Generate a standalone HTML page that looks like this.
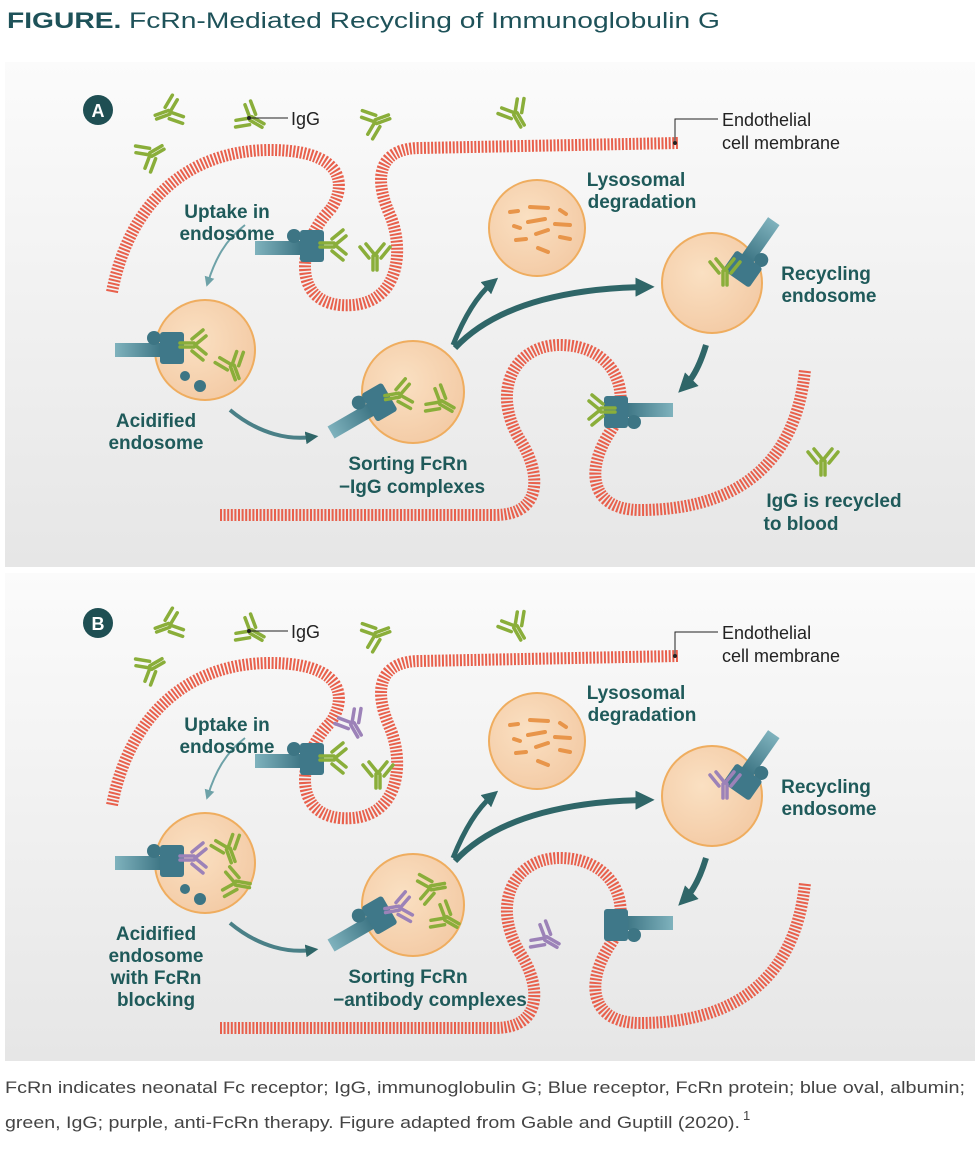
<!DOCTYPE html>
<html><head><meta charset="utf-8"><style>
body{margin:0;background:#fff;width:980px;height:1156px;overflow:hidden;font-family:"Liberation Sans",sans-serif}
svg{position:absolute;left:0;top:0}
</style></head><body>
<svg width="980" height="1156" viewBox="0 0 980 1156" xmlns="http://www.w3.org/2000/svg">
<defs>
<linearGradient id="bg" x1="0" y1="0" x2="0" y2="1"><stop offset="0" stop-color="#fbfbfb"/><stop offset="1" stop-color="#e6e6e6"/></linearGradient>
<radialGradient id="cell" cx="0.4" cy="0.4" r="0.7"><stop offset="0" stop-color="#fae0c2"/><stop offset="1" stop-color="#f3c9a3"/></radialGradient>
<linearGradient id="tail" x1="0" y1="0" x2="1" y2="0"><stop offset="0" stop-color="#7fb2bd"/><stop offset="1" stop-color="#3d7584"/></linearGradient>
<symbol id="ab" overflow="visible"><g fill="none" stroke="#8aae3a" stroke-width="3.5" stroke-linecap="round"><path d="M0,0 L-9,-11 M0,0 L9,-11 M-2,1 L-2,15 M2,1 L2,15 M-6,3 L-15,-8 M6,3 L15,-8"/></g></symbol>
<symbol id="abp" overflow="visible"><g fill="none" stroke="#9c82b8" stroke-width="3.5" stroke-linecap="round"><path d="M0,0 L-9,-11 M0,0 L9,-11 M-2,1 L-2,15 M2,1 L2,15 M-6,3 L-15,-8 M6,3 L15,-8"/></g></symbol>
<symbol id="rec" overflow="visible"><rect x="-45" y="-7" width="47" height="14" fill="url(#tail)"/><circle cx="-6" cy="-12" r="7" fill="#3d7584"/><rect x="0" y="-18" width="24" height="32" rx="3" fill="#3f7889"/></symbol>
<marker id="ah" viewBox="0 0 10 10" refX="5" refY="5" markerWidth="3.2" markerHeight="3.2" orient="auto"><path d="M0,0 L10,5 L0,10 z" fill="#2f6668"/></marker>
<marker id="ahl" viewBox="0 0 10 10" refX="5" refY="5" markerWidth="5" markerHeight="5" orient="auto"><path d="M0,0 L10,5 L0,10 z" fill="#6ea2a8"/></marker>
<g id="mem">
<path d="M112,292 C130,200 190,150 270,150 C350,150 345,190 330,210 C300,240 290,300 340,305 C400,310 405,250 390,215 C370,170 385,148 420,148 L678,143" fill="none" stroke="#e8604c" stroke-width="12" stroke-dasharray="2 1.6"/>
<path d="M220,515 L495,515 C545,515 540,470 520,440 C490,390 515,345 560,345 C615,345 635,395 610,432 C585,470 590,510 640,510 C730,510 795,470 805,370" fill="none" stroke="#e8604c" stroke-width="12" stroke-dasharray="2 1.6"/>
</g>
<g id="cells" stroke="#efad5f" stroke-width="2" fill="url(#cell)">
<circle cx="205" cy="350" r="50"/><circle cx="413" cy="392" r="51"/><circle cx="537" cy="228" r="48"/><circle cx="712" cy="283" r="50"/>
</g>
<g id="frag" stroke="#e8954a" stroke-width="4" stroke-linecap="round">
<path d="M510,212 L518,211 M530,207 L548,208 M560,210 L566,214 M514,226 L520,228 M528,222 L545,219 M555,224 L570,225 M516,240 L526,239 M536,234 L548,230 M538,248 L548,252 M560,237 L570,239"/>
</g>
<g id="arrows" fill="none">
<path d="M245,225 C225,240 215,260 208,282" stroke="#6ea2a8" stroke-width="2" marker-end="url(#ahl)"/>
<path d="M230,410 C260,435 290,440 312,437" stroke="#4a8087" stroke-width="4" marker-end="url(#ah)"/>
<path d="M453,345 C465,315 478,295 492,283" stroke="#2f6668" stroke-width="5" marker-end="url(#ah)"/>
<path d="M455,348 C500,300 580,288 645,287" stroke="#2f6668" stroke-width="6" marker-end="url(#ah)"/>
<path d="M706,345 C700,365 693,378 685,386" stroke="#2f6668" stroke-width="6" marker-end="url(#ah)"/>
</g>
</defs>
<text x="7" y="28" font-size="22" fill="#1e5259" textLength="713" lengthAdjust="spacingAndGlyphs"><tspan font-weight="bold">FIGURE.</tspan><tspan dx="6">FcRn-Mediated Recycling of Immunoglobulin G</tspan></text>
<rect x="5" y="62" width="970" height="505" fill="url(#bg)"/>
<rect x="5" y="573" width="970" height="488" fill="url(#bg)"/>

<!-- PANEL A -->
<g>
<use href="#mem"/><use href="#cells"/><use href="#frag"/><use href="#arrows"/>
<circle cx="98" cy="110" r="15" fill="#1f4f53"/><text x="98" y="117" font-size="18" font-weight="bold" fill="#fff" text-anchor="middle">A</text>
<use href="#ab" transform="translate(170,112) rotate(70)"/>
<use href="#ab" transform="translate(150,155) rotate(-120)"/>
<use href="#ab" transform="translate(250,118) rotate(-60)"/>
<use href="#ab" transform="translate(375,122) rotate(-110)"/>
<use href="#ab" transform="translate(515,113) rotate(-30)"/>
<circle cx="249" cy="118" r="2" fill="#222"/><path d="M249,118 H288" stroke="#222" stroke-width="1"/>
<text x="291" y="125" font-size="18" fill="#222">IgG</text>
<circle cx="675" cy="143" r="2" fill="#222"/><path d="M675,143 V119 H718" stroke="#222" stroke-width="1" fill="none"/>
<text x="722" y="126" font-size="18" fill="#222">Endothelial</text><text x="722" y="149" font-size="18" fill="#222">cell membrane</text>
<use href="#rec" transform="translate(300,248)"/>
<use href="#ab" transform="translate(335,245) rotate(90)"/>
<use href="#ab" transform="translate(375,255) rotate(0)"/>
<use href="#rec" transform="translate(160,350)"/>
<use href="#ab" transform="translate(195,345) rotate(90)"/>
<use href="#ab" transform="translate(232,365) rotate(-20)"/>
<circle cx="185" cy="376" r="5" fill="#3d7584"/><circle cx="200" cy="386" r="6" fill="#3d7584"/>
<use href="#rec" transform="translate(370,410) rotate(-30)"/>
<use href="#ab" transform="translate(400,395) rotate(80)"/>
<use href="#ab" transform="translate(440,402) rotate(-60)"/>
<use href="#rec" transform="translate(748,258) rotate(125)"/>
<use href="#ab" transform="translate(725,270) rotate(0)"/>
<use href="#rec" transform="translate(628,410) rotate(180)"/>
<use href="#ab" transform="translate(600,410) rotate(-90)"/>
<use href="#ab" transform="translate(823,460) rotate(0)"/>
<g font-size="19" font-weight="bold" fill="#1f5a5a" text-anchor="middle">
<text x="227" y="218">Uptake in</text><text x="227" y="240">endosome</text>
<text x="156" y="427">Acidified</text><text x="156" y="449">endosome</text>
<text x="408" y="470">Sorting FcRn</text><text x="412" y="493">−IgG complexes</text>
<text x="636" y="186">Lysosomal</text><text x="642" y="208">degradation</text>
<text x="826" y="280">Recycling</text><text x="829" y="302">endosome</text>
<text x="834" y="507">IgG is recycled</text><text x="801" y="530">to blood</text>
</g>
</g>

<!-- PANEL B -->
<g transform="translate(0,513)">
<use href="#mem"/><use href="#cells"/><use href="#frag"/><use href="#arrows"/>
<circle cx="98" cy="110" r="15" fill="#1f4f53"/><text x="98" y="117" font-size="18" font-weight="bold" fill="#fff" text-anchor="middle">B</text>
<use href="#ab" transform="translate(170,112) rotate(70)"/>
<use href="#ab" transform="translate(150,155) rotate(-120)"/>
<use href="#ab" transform="translate(250,118) rotate(-60)"/>
<use href="#ab" transform="translate(375,122) rotate(-110)"/>
<use href="#ab" transform="translate(515,113) rotate(-30)"/>
<circle cx="249" cy="118" r="2" fill="#222"/><path d="M249,118 H288" stroke="#222" stroke-width="1"/>
<text x="291" y="125" font-size="18" fill="#222">IgG</text>
<circle cx="675" cy="143" r="2" fill="#222"/><path d="M675,143 V119 H718" stroke="#222" stroke-width="1" fill="none"/>
<text x="722" y="126" font-size="18" fill="#222">Endothelial</text><text x="722" y="149" font-size="18" fill="#222">cell membrane</text>
<use href="#rec" transform="translate(300,248)"/>
<use href="#abp" transform="translate(352,210) rotate(-30)"/>
<use href="#ab" transform="translate(335,245) rotate(90)"/>
<use href="#ab" transform="translate(378,260) rotate(0)"/>
<use href="#rec" transform="translate(160,350)"/>
<use href="#abp" transform="translate(195,345) rotate(90)"/>
<use href="#ab" transform="translate(228,335) rotate(-20)"/>
<use href="#ab" transform="translate(235,370) rotate(-80)"/>
<circle cx="185" cy="376" r="5" fill="#3d7584"/><circle cx="200" cy="386" r="6" fill="#3d7584"/>
<use href="#rec" transform="translate(370,410) rotate(-30)"/>
<use href="#abp" transform="translate(400,395) rotate(80)"/>
<use href="#ab" transform="translate(430,375) rotate(-100)"/>
<use href="#ab" transform="translate(445,405) rotate(-60)"/>
<use href="#rec" transform="translate(748,258) rotate(125)"/>
<use href="#abp" transform="translate(725,270) rotate(0)"/>
<use href="#rec" transform="translate(628,410) rotate(180)"/>
<use href="#abp" transform="translate(545,425) rotate(-60)"/>
<g font-size="19" font-weight="bold" fill="#1f5a5a" text-anchor="middle">
<text x="227" y="218">Uptake in</text><text x="227" y="240">endosome</text>
<text x="156" y="427">Acidified</text><text x="156" y="449">endosome</text><text x="156" y="471">with FcRn</text><text x="156" y="493">blocking</text>
<text x="408" y="470">Sorting FcRn</text><text x="430" y="493">−antibody complexes</text>
<text x="636" y="186">Lysosomal</text><text x="642" y="208">degradation</text>
<text x="826" y="280">Recycling</text><text x="829" y="302">endosome</text>
</g>
</g>
<text x="5" y="1093" font-size="17" fill="#444" textLength="960" lengthAdjust="spacingAndGlyphs">FcRn indicates neonatal Fc receptor; IgG, immunoglobulin G; Blue receptor, FcRn protein; blue oval, albumin;</text>
<text x="5" y="1128" font-size="17" fill="#444" textLength="735" lengthAdjust="spacingAndGlyphs">green, IgG; purple, anti-FcRn therapy. Figure adapted from Gable and Guptill (2020).</text>
<text x="743" y="1120" font-size="13" fill="#444">1</text>
</svg>
</body></html>
